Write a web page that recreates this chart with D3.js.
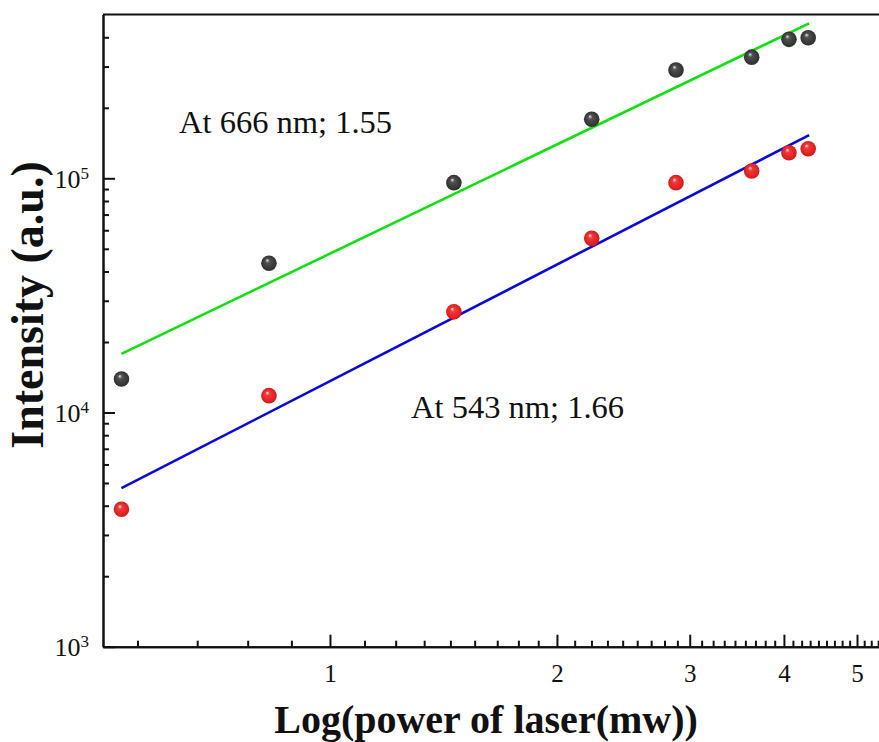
<!DOCTYPE html>
<html>
<head>
<meta charset="utf-8">
<script src="https://cdn.jsdelivr.net/npm/d3@7"></script>
<style>
  html, body { margin: 0; padding: 0; background: #fff; overflow: hidden; }
  svg { display: block; }
  svg text { font-family: "Liberation Serif", "Times New Roman", serif !important; fill: #111; }
</style>
</head>
<body>
<svg id="chart" width="879" height="742"></svg>
<script>
// ---------- data ----------
const power = [0.529, 0.830, 1.460, 2.224, 2.877, 3.625, 4.062, 4.308];          // mW
const intensity666 = [13900, 43400, 95800, 178600, 290000, 329000, 392000, 398000];
const intensity543 = [3860, 11800, 26900, 55400, 95800, 107500, 128600, 133800];
const fitPower = [0.529, 4.32];
const fit666 = [17800, 459000];
const fit543 = [4750, 153000];
const xMajorTicks = [1, 2, 3, 4, 5];
const yMajorTicks = [1e3, 1e4, 1e5];
const labels = ["At 666 nm; 1.55", "At 543 nm; 1.66"];
const xTitle = "Log(power of laser(mw))";
const yTitle = "Intensity (a.u.)";

// ---------- layout ----------
const svg = d3.select("#chart");
const plotLeft = 103, plotBottom = 646.7, plotTop = 14.6;
const pxPerDecadeX = 754;
const x = d3.scaleLog().domain([0.5, 6]).range([plotLeft, plotLeft + pxPerDecadeX * Math.log10(12)]);
const y = d3.scaleLog().domain([1e3, 5e5]).range([plotBottom, plotTop]);
const serif = "Liberation Serif";

// gradients for 3D spheres
const defs = svg.append("defs");
function sphere(id, light, mid, dark) {
  const g = defs.append("radialGradient").attr("id", id)
    .attr("cx", "0.5").attr("cy", "0.5").attr("r", "0.5")
    .attr("fx", "0.38").attr("fy", "0.3");
  g.append("stop").attr("offset", "0").attr("stop-color", light);
  g.append("stop").attr("offset", "0.28").attr("stop-color", mid);
  g.append("stop").attr("offset", "1").attr("stop-color", dark);
}
sphere("gBlack", "#e8e8e8", "#505050", "#2e2e2e");
sphere("gRed", "#ffe4e4", "#f03a3a", "#d81818");

// ---------- minor tick values ----------
const xMinor = [];
for (let n = 0; n <= 5; n++) for (let k = 1; k <= 8; k++) {
  const v = n + k / 9;
  if (v > 0.5 && v < 6) xMinor.push(v);
}
const yMinor = [];
[1e3, 1e4, 1e5].forEach(d => { for (let m = 2; m <= 9; m++) if (d * m < 5e5) yMinor.push(d * m); });

// ---------- axes ----------
const axisStroke = 2;
const gx = svg.append("g").attr("transform", `translate(0,${plotBottom})`);
gx.call(d3.axisBottom(x).tickValues(xMajorTicks).tickSizeInner(-12).tickSizeOuter(0)
  .tickFormat(d3.format("d")).tickPadding(22));
gx.append("g").call(d3.axisBottom(x).tickValues(xMinor).tickSizeInner(-6).tickSizeOuter(0).tickFormat(""));
gx.attr("font-family", serif);
gx.selectAll(".domain").attr("stroke", "#111").attr("stroke-width", axisStroke);
gx.selectAll(".tick line").attr("stroke", "#111").attr("stroke-width", axisStroke);
gx.selectAll(".tick text").attr("font-size", 25).attr("font-family", serif).attr("fill", "#111")
  .attr("dy", "0").attr("y", 35.5);

const gy = svg.append("g").attr("transform", `translate(${plotLeft},0)`);
gy.call(d3.axisLeft(y).tickValues(yMajorTicks).tickSizeInner(-12).tickSizeOuter(0).tickFormat(""));
gy.append("g").call(d3.axisLeft(y).tickValues(yMinor).tickSizeInner(-6).tickSizeOuter(0).tickFormat(""));
gy.selectAll(".domain").attr("stroke", "#111").attr("stroke-width", axisStroke);
gy.selectAll(".tick line").attr("stroke", "#111").attr("stroke-width", axisStroke);

// y tick labels with superscript exponents
yMajorTicks.forEach(v => {
  const t = svg.append("text").attr("x", plotLeft - 14).attr("y", y(v) + 9.5)
    .attr("text-anchor", "end").attr("font-size", 26).attr("font-family", serif);
  t.append("tspan").text("10");
  t.append("tspan").attr("font-size", 17).attr("dy", -9).text(String(Math.round(Math.log10(v))));
});

// top frame line
svg.append("line").attr("x1", plotLeft).attr("x2", x.range()[1]).attr("y1", plotTop).attr("y2", plotTop)
  .attr("stroke", "#111").attr("stroke-width", axisStroke);

// ---------- fit lines ----------
const line = d3.line().x(d => x(d[0])).y(d => y(d[1]));
svg.append("path").datum(d3.zip(fitPower, fit666)).attr("d", line)
  .attr("fill", "none").attr("stroke", "#10e010").attr("stroke-width", 2.6);
svg.append("path").datum(d3.zip(fitPower, fit543)).attr("d", line)
  .attr("fill", "none").attr("stroke", "#0a0ad8").attr("stroke-width", 2.6);

// ---------- points ----------
svg.append("g").selectAll("circle").data(d3.zip(power, intensity666)).join("circle")
  .attr("cx", d => x(d[0])).attr("cy", d => y(d[1])).attr("r", 7.8).attr("fill", "url(#gBlack)");
svg.append("g").selectAll("circle").data(d3.zip(power, intensity543)).join("circle")
  .attr("cx", d => x(d[0])).attr("cy", d => y(d[1])).attr("r", 7.8).attr("fill", "url(#gRed)");

// ---------- annotations ----------
svg.append("text").attr("x", 179).attr("y", 133).attr("font-size", 32.5).attr("font-family", serif).text(labels[0]);
svg.append("text").attr("x", 411).attr("y", 418).attr("font-size", 32.5).attr("font-family", serif).text(labels[1]);

// ---------- axis titles ----------
svg.append("text").attr("x", 486).attr("y", 733).attr("text-anchor", "middle").attr("font-family", serif)
  .attr("font-size", 40).attr("font-weight", "bold").text(xTitle);
svg.append("text").attr("transform", "translate(43,305) rotate(-90)").attr("text-anchor", "middle")
  .attr("font-family", serif).attr("font-size", 46).attr("font-weight", "bold").text(yTitle);
</script>
</body>
</html>
